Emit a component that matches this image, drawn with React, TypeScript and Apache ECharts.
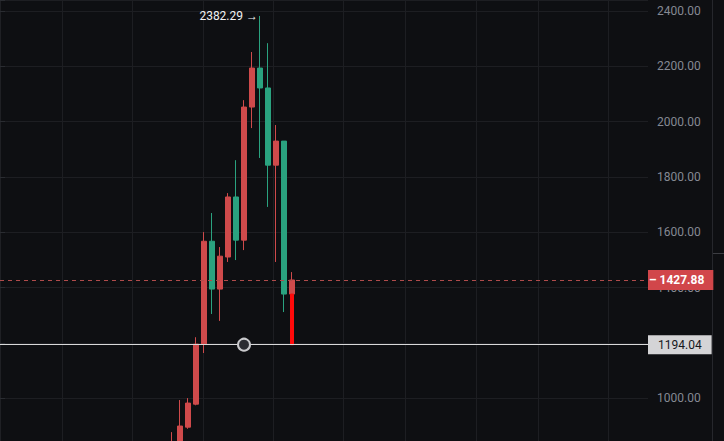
import React, { useEffect, useRef } from 'react';
import * as echarts from 'echarts';

// ---- data ----
const slotCount = 81;
const categories: string[] = Array.from({ length: slotCount }, (_, i) => 'P' + i);
const startIndex = 21;
const opens = [820, 830, 896, 979, 1196, 1568, 1395, 1511, 1728, 1572, 2053, 2194, 2122, 1843, 1930, 1377];
const closes = [840, 900, 983, 1196, 1568, 1395, 1514, 1728, 1572, 2053, 2194, 2122, 1843, 1930, 1377, 1427.88];
const lows = [800, 820, 890, 975, 1164, 1305, 1280, 1493, 1500, 1536, 1977, 1869, 1692, 1493, 1312, 1377];
const highs = [878, 994, 1001, 1221, 1601, 1670, 1547, 1742, 1861, 2078, 2252, 2382.29, 2284, 1988, 1930, 1456.5];
const dropBar = { index: 36, from: 1377, to: 1194.04 };
const lastPrice = 1427.88;
const linePrice = 1194.04;
const circleIndex = 30;
const highIndex = 32;
const highValue = 2382.29;
const periodLines = [7.75, 16.5, 25.4, 34.1, 42.9, 50.6, 59.5, 67.25, 76];
const yTicks = { min: 800, max: 2440, interval: 200 };

// ---- styles ----
const bg = '#0e0f12';
const gridColor = '#1d1e22';
const upColor = '#cf4a4b';
const downColor = '#2aa27f';
const font = 'Roboto, "Noto Sans", sans-serif';

export default function App() {
  const ref = useRef<HTMLDivElement>(null);
  useEffect(() => {
    document.body.style.margin = '0';
    document.body.style.background = bg;
    const chart = echarts.init(ref.current!, null, { renderer: 'svg' });

    const candleData = categories.map((_, i) => {
      const k = i - startIndex;
      if (k < 0 || k >= opens.length) return '-';
      return [opens[k], closes[k], lows[k], highs[k]];
    });
    const dropData = categories.map((_, i) =>
      i === dropBar.index ? [dropBar.from, dropBar.to, dropBar.to, dropBar.from] : '-'
    );

    chart.setOption({
      animation: false,
      backgroundColor: bg,
      textStyle: { fontFamily: font },
      grid: { left: 0, right: 76, top: 0, bottom: -12.7, containLabel: false, outerBoundsMode: 'none' },
      xAxis: [
        {
          type: 'category',
          data: categories,
          boundaryGap: true,
          axisLine: { show: false },
          axisTick: { show: false },
          axisLabel: { show: false },
          splitLine: { show: false },
        },
        {
          type: 'value',
          min: 0,
          max: slotCount,
          position: 'top',
          axisLine: { show: false },
          axisTick: { show: false },
          axisLabel: { show: false },
          splitLine: { show: false },
        },
      ],
      yAxis: {
        type: 'value',
        position: 'right',
        min: yTicks.min,
        max: yTicks.max,
        interval: yTicks.interval,
        axisLine: { show: true, lineStyle: { color: '#1f2024' } },
        axisTick: { show: true, length: 5, lineStyle: { color: '#2a2c31' } },
        axisLabel: {
          margin: 9,
          color: '#858993',
          fontSize: 12,
          fontFamily: font,
          formatter: (v: number) => (v % 200 === 0 && v > yTicks.min ? v.toFixed(2) : ''),
        },
        splitLine: { show: true, lineStyle: { color: gridColor, width: 1 } },
      },
      series: [
        {
          type: 'line',
          xAxisIndex: 1,
          yAxisIndex: 0,
          data: [[0, yTicks.min]],
          symbol: 'none',
          lineStyle: { opacity: 0 },
          silent: true,
          z: 0,
          markLine: {
            silent: true,
            z: 0,
            symbol: 'none',
            label: { show: false },
            lineStyle: { color: gridColor, type: 'solid', width: 1 },
            data: periodLines.map((v) => ({ xAxis: v })),
          },
        },
        {
          type: 'candlestick',
          data: candleData,
          barWidth: 5,
          z: 3,
          itemStyle: {
            color: upColor,
            color0: downColor,
            borderColor: upColor,
            borderColor0: downColor,
            borderWidth: 1,
          },
          markLine: {
            silent: true,
            symbol: 'none',
            data: [
              {
                yAxis: lastPrice,
                lineStyle: { color: '#b04b4b', type: [4, 4], width: 1 },
                label: {
                  show: true,
                  position: 'end',
                  distance: 0,
                  formatter: '– ' + lastPrice.toFixed(2),
                  color: '#ffffff',
                  fontWeight: 'bold',
                  fontSize: 12,
                  fontFamily: font,
                  lineHeight: 13,
                  backgroundColor: '#d1464a',
                  padding: [4, 9, 3, 1],
                },
              },
              {
                yAxis: linePrice,
                lineStyle: { color: '#d9d9d9', type: 'solid', width: 1 },
                label: {
                  show: true,
                  position: 'end',
                  distance: 0,
                  formatter: linePrice.toFixed(2),
                  color: '#16181d',
                  fontSize: 12,
                  fontFamily: font,
                  lineHeight: 13,
                  backgroundColor: '#d4d4d6',
                  padding: [3, 10, 3, 10],
                },
              },
            ],
          },
          markPoint: {
            silent: true,
            data: [
              {
                coord: [categories[highIndex], highValue],
                symbol: 'circle',
                symbolSize: 0,
                label: {
                  show: true,
                  position: 'left',
                  distance: 2,
                  formatter: highValue.toFixed(2) + ' →',
                  color: '#f2f2f2',
                  fontSize: 12,
                  fontFamily: font,
                },
              },
            ],
          },
        },
        {
          type: 'candlestick',
          data: dropData,
          barWidth: 3,
          z: 4,
          itemStyle: {
            color: '#ff0a0a',
            color0: '#ff0a0a',
            borderColor: '#ff0a0a',
            borderColor0: '#ff0a0a',
            borderWidth: 1,
          },
          markPoint: {
            silent: true,
            z: 10,
            data: [
              {
                coord: [categories[circleIndex], linePrice],
                symbol: 'circle',
                symbolSize: 12,
                itemStyle: { color: '#2b2c31', borderColor: '#c9c9cc', borderWidth: 2 },
                label: { show: false },
              },
            ],
          },
        },
      ],
      graphic: [
        {
          type: 'line',
          shape: { x1: 712.5, y1: 0, x2: 712.5, y2: 441 },
          style: { stroke: '#26272c', lineWidth: 1 },
          silent: true,
        },
        {
          type: 'line',
          shape: { x1: 713, y1: 253.5, x2: 724, y2: 253.5 },
          style: { stroke: '#3c3d42', lineWidth: 1 },
          silent: true,
        },
      ],
    });
    return () => chart.dispose();
  }, []);
  return <div ref={ref} style={{ width: 724, height: 441 }} />;
}
